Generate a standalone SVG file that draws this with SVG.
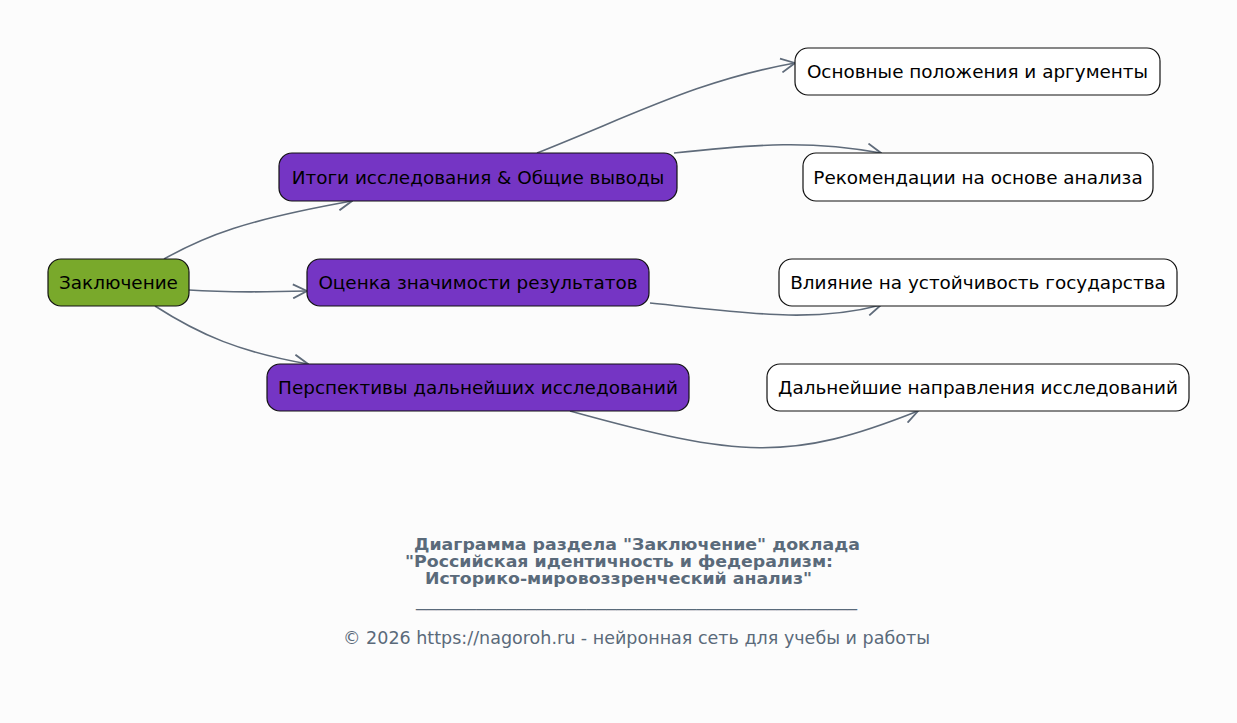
<svg xmlns="http://www.w3.org/2000/svg" width="1237" height="723" viewBox="0 0 1237 723">
<defs>
<style>
.n text{font-family:"DejaVu Sans",sans-serif;font-size:18.4px;fill:#000;text-anchor:middle;dominant-baseline:central}
.n rect{stroke:#111;stroke-width:1.2}
.root rect{fill:#79a92b}
.mid rect{fill:#7535c4}
.leaf rect{fill:#fff}
.e path{fill:none;stroke:#5f6b7a;stroke-width:1.6;marker-end:url(#ah)}
.t{font-family:"DejaVu Sans",sans-serif;fill:#5a6a7a}
</style>
<marker id="ah" viewBox="0 0 16 16" refX="15" refY="8" markerWidth="16" markerHeight="16" markerUnits="userSpaceOnUse" orient="auto">
<path d="M1,1 L15,8 L1,15" fill="none" stroke="#5f6b7a" stroke-width="1.8"/>
</marker>
</defs>
<rect width="1237" height="723" fill="#fcfcfc"/>
<g class="e" id="connectors">
<path d="M164,259 C205,236 245,220 352,201"/>
<path d="M189,290 C230,293 270,292 307,291"/>
<path d="M155,306 C200,335 240,352 308,364"/>
<path d="M537,153 C640,112 700,80 795,63"/>
<path d="M674,153 C760,144 810,140 881,153"/>
<path d="M650,303 C740,312 810,324 881,305"/>
<path d="M570,411 C740,458 790,462 918,411"/>
</g>
<g class="n root" id="n-zakl"><rect x="48" y="259" width="141" height="47" rx="13"/><text x="118.5" y="282.5">Заключение</text></g>
<g class="n mid" id="n-itogi"><rect x="279" y="153" width="398" height="48" rx="13"/><text x="478" y="177">Итоги исследования &amp; Общие выводы</text></g>
<g class="n mid" id="n-ocenka"><rect x="307" y="259" width="342" height="47" rx="13"/><text x="478" y="282.5">Оценка значимости результатов</text></g>
<g class="n mid" id="n-persp"><rect x="267" y="364" width="422" height="47" rx="13"/><text x="478" y="387.5">Перспективы дальнейших исследований</text></g>
<g class="n leaf" id="n-osn"><rect x="795" y="48" width="365" height="47" rx="13"/><text x="977.5" y="71.5">Основные положения и аргументы</text></g>
<g class="n leaf" id="n-rek"><rect x="803" y="153" width="350" height="48" rx="13"/><text x="978" y="177">Рекомендации на основе анализа</text></g>
<g class="n leaf" id="n-vl"><rect x="779" y="259" width="398" height="47" rx="13"/><text x="978" y="282.5">Влияние на устойчивость государства</text></g>
<g class="n leaf" id="n-dal"><rect x="767" y="364" width="422" height="47" rx="13"/><text x="978" y="387.5">Дальнейшие направления исследований</text></g>
<g id="title">
<text class="t" x="414" y="550" font-size="15" font-weight="bold" textLength="446" lengthAdjust="spacingAndGlyphs">Диаграмма раздела "Заключение" доклада</text>
<text class="t" x="405" y="567" font-size="15" font-weight="bold" textLength="428" lengthAdjust="spacingAndGlyphs">"Российская идентичность и федерализм:</text>
<text class="t" x="425" y="584" font-size="15" font-weight="bold" textLength="387" lengthAdjust="spacingAndGlyphs">Историко-мировоззренческий анализ"</text>
<text class="t" x="416" y="606" font-size="15" textLength="441" lengthAdjust="spacingAndGlyphs">____________________________________________</text>
<text class="t" x="343" y="644" font-size="17" textLength="587" lengthAdjust="spacingAndGlyphs">© 2026 https://nagoroh.ru - нейронная сеть для учебы и работы</text>
</g>
</svg>
